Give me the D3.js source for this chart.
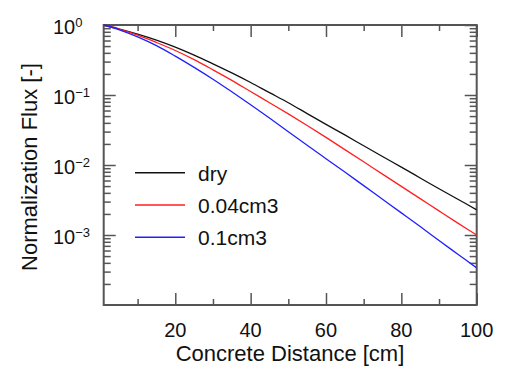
<!DOCTYPE html>
<html><head><meta charset="utf-8">
<script src="https://cdn.jsdelivr.net/npm/d3@7"></script>
<style>
html,body{margin:0;padding:0;background:#fff;}
text{font-family:"Liberation Sans",Arial,sans-serif;fill:#111;}
</style></head>
<body>
<svg id="c" width="506" height="370"></svg>
<script>
const distance = [1,5,10,15,20,25,30,35,40,45,50,55,60,65,70,75,80,85,90,95,100];
const fluxDry = [1,0.881,0.741,0.610,0.484,0.372,0.279,0.207,0.151,0.108,0.0776,0.0543,0.0380,0.0269,0.0188,0.0132,0.00933,0.00653,0.00457,0.00324,0.00229];
const flux004 = [1,0.871,0.716,0.562,0.432,0.320,0.229,0.162,0.112,0.0776,0.0537,0.0367,0.0248,0.0166,0.0111,0.00741,0.00495,0.00331,0.00221,0.00148,0.00100];
const flux01 = [1,0.861,0.676,0.507,0.359,0.248,0.168,0.111,0.0724,0.0468,0.0299,0.0191,0.0123,0.00794,0.00507,0.00324,0.00207,0.00132,0.000832,0.000531,0.000339];
const seriesNames = ["dry","0.04cm3","0.1cm3"];
const seriesColors = ["#111111","#ff2020","#2020ff"];
const xMajorTicks = [20,40,60,80,100];
const xMinorTicks = [10,30,50,70,90];
const yDecades = [1,0.1,0.01,0.001];
const yDecadeExp = ["0","\u22121","\u22122","\u22123"];
const xTitle = "Concrete Distance [cm]";
const yTitle = "Normalization Flux [-]";

const svg = d3.select("#c");
const L=103.7, R=476.7, T=25, B=305;
const x = d3.scaleLinear().domain([1,100]).range([L,R]);
const y = d3.scaleLog().domain([1e-4,1]).range([B,T]);
const frameColor = "#555";

const yMinor = [];
[1e-4,1e-3,1e-2,1e-1].forEach(d=>{for(let k=2;k<=9;k++) yMinor.push(d*k);});

const g = svg.append("g");
const axB1 = d3.axisBottom(x).tickValues(xMajorTicks).tickSize(-12).tickFormat("");
const axB2 = d3.axisBottom(x).tickValues(xMinorTicks).tickSize(-6).tickFormat("");
const axT1 = d3.axisTop(x).tickValues(xMajorTicks).tickSize(-12).tickFormat("");
const axT2 = d3.axisTop(x).tickValues(xMinorTicks).tickSize(-6).tickFormat("");
const axL1 = d3.axisLeft(y).tickValues(yDecades).tickSize(-12).tickFormat("");
const axL2 = d3.axisLeft(y).tickValues(yMinor).tickSize(-7).tickFormat("");
const axR1 = d3.axisRight(y).tickValues(yDecades).tickSize(-12).tickFormat("");
const axR2 = d3.axisRight(y).tickValues(yMinor).tickSize(-7).tickFormat("");
[[axB1,`translate(0,${B})`],[axB2,`translate(0,${B})`],[axT1,`translate(0,${T})`],[axT2,`translate(0,${T})`],
 [axL1,`translate(${L},0)`],[axL2,`translate(${L},0)`],[axR1,`translate(${R},0)`],[axR2,`translate(${R},0)`]]
 .forEach(([ax,tr])=>{
   const a = g.append("g").attr("transform",tr).call(ax);
   a.select(".domain").remove();
   a.selectAll("line").attr("stroke",frameColor).attr("stroke-width",1.5);
 });

g.selectAll(".xl").data(xMajorTicks).enter().append("text")
  .attr("x",d=>x(d)).attr("y",337).attr("text-anchor","middle")
  .style("font-size","20px").text(d=>d);

yDecades.forEach((d,i)=>{
  const t = g.append("text").attr("x",53).attr("y",y(d)+8.8).style("font-size","20px");
  t.append("tspan").text("10");
  t.append("tspan").attr("dy",-7).style("font-size","13px").text(yDecadeExp[i]);
});

g.append("rect").attr("x",L).attr("y",T).attr("width",R-L).attr("height",B-T)
  .attr("fill","none").attr("stroke",frameColor).attr("stroke-width",2);

const allSeries = [fluxDry, flux004, flux01];
svg.append("clipPath").attr("id","pc").append("rect")
  .attr("x",L).attr("y",T-1).attr("width",R-L).attr("height",B-T+2);
const line = d3.line().x((d,i)=>x(distance[i])).y(d=>y(d)).curve(d3.curveCatmullRom);
allSeries.forEach((s,i)=>{
  g.append("path").attr("d",line(s)).attr("fill","none")
    .attr("stroke",seriesColors[i]).attr("stroke-width",1.3).attr("clip-path","url(#pc)");
});

seriesNames.forEach((n,i)=>{
  const ly = 172.7 + i*32.3;
  g.append("line").attr("x1",135).attr("x2",185).attr("y1",ly).attr("y2",ly)
    .attr("stroke",seriesColors[i]).attr("stroke-width",1.5);
  g.append("text").attr("x",198).attr("y",ly+8).style("font-size","21px").text(n);
});

g.append("text").attr("x",290).attr("y",361).attr("text-anchor","middle")
  .style("font-size","22px").text(xTitle);
g.append("text").attr("transform",`translate(37,167) rotate(-90)`).attr("text-anchor","middle")
  .style("font-size","22px").text(yTitle);
</script>
</body></html>
